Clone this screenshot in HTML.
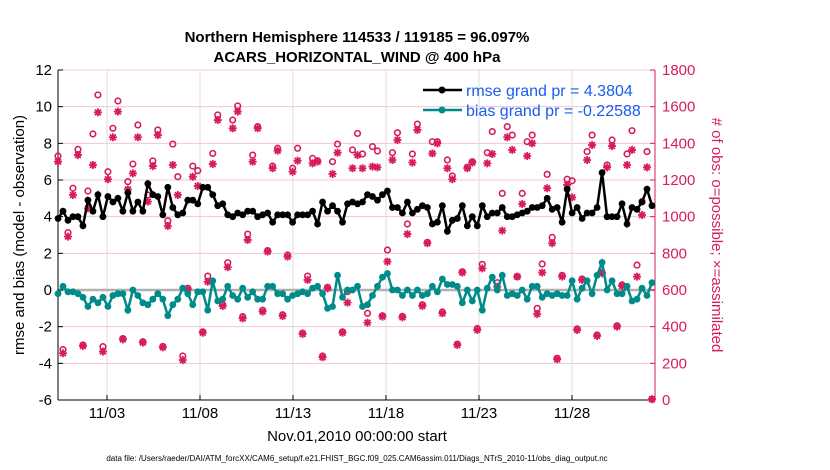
<!DOCTYPE html>
<html><head><meta charset="utf-8"><style>
body{margin:0;background:#fff;}
svg{display:block;font-family:"Liberation Sans",Arial,sans-serif;}
</style></head><body>
<svg id="chart" width="830" height="470" viewBox="0 0 830 470">
<text x="357" y="42" text-anchor="middle" font-size="15" font-weight="bold">Northern Hemisphere 114533 / 119185 = 96.097%</text>
<text x="357" y="62" text-anchor="middle" font-size="15" font-weight="bold">ACARS_HORIZONTAL_WIND @ 400 hPa</text>
<g id="grid"></g>
<g id="axes"></g>
<g id="marks"></g>
<text transform="translate(24,235) rotate(-90)" text-anchor="middle" font-size="15">rmse and bias (model - observation)</text>
<text transform="translate(712,235) rotate(90)" text-anchor="middle" font-size="15" fill="#d81b5c"># of obs: o=possible; ×=assimilated</text>
<text x="357" y="441" text-anchor="middle" font-size="15">Nov.01,2010 00:00:00 start</text>
<text x="357" y="461" text-anchor="middle" font-size="8">data file: /Users/raeder/DAI/ATM_forcXX/CAM6_setup/f.e21.FHIST_BGC.f09_025.CAM6assim.011/Diags_NTrS_2010-11/obs_diag_output.nc</text>
<g id="legend">
<line x1="423" y1="90" x2="462" y2="90" stroke="#000" stroke-width="2.5"/>
<circle cx="442" cy="90" r="3.5" fill="#000"/>
<text x="466" y="96" font-size="16" fill="#1a5cf0">rmse grand pr = 4.3804</text>
<line x1="423" y1="110" x2="462" y2="110" stroke="#008b8b" stroke-width="2.5"/>
<circle cx="442" cy="110" r="3.5" fill="#008b8b"/>
<text x="466" y="116" font-size="16" fill="#1a5cf0">bias grand pr = -0.22588</text>
</g>
</svg>
<script>
const leftTicks=[-6,-4,-2,0,2,4,6,8,10,12];
const rightTicks=[0,200,400,600,800,1000,1200,1400,1600,1800];
const dateDays=[3,8,13,18,23,28];
const dateLabels=["11/03","11/08","11/13","11/18","11/23","11/28"];
const rmse=[3.9,4.3,3.8,4.0,4.0,3.5,4.9,4.3,5.2,4.0,5.1,4.8,5.0,4.3,5.3,4.3,4.8,4.3,5.8,5.2,5.1,4.1,5.6,4.5,4.1,4.2,4.9,4.9,4.7,5.6,5.6,
5.2,4.6,4.7,4.1,4.0,4.2,4.1,4.3,4.3,4.0,4.1,4.2,3.7,4.1,4.1,4.1,3.7,4.1,4.1,4.1,4.3,3.6,4.8,4.3,4.6,4.3,3.7,4.7,4.8,4.7,
4.8,5.2,5.1,4.9,5.2,5.4,4.5,4.5,4.2,4.8,4.2,4.4,4.6,4.5,3.6,3.7,4.6,3.2,3.8,3.9,4.6,3.5,4.0,3.5,4.6,4.0,4.2,4.2,4.5,4.0,
4.0,4.1,4.2,4.3,4.5,4.5,4.6,5.0,4.4,4.5,3.7,5.5,4.2,4.5,3.9,4.2,4.2,4.5,6.4,4.0,4.0,4.0,4.7,3.6,4.5,4.4,4.8,5.5,4.6];
const bias=[-0.2,0.2,-0.1,-0.1,-0.2,-0.4,-0.9,-0.5,-0.7,-0.4,-0.9,-0.3,-0.2,-0.2,-1.1,0,-0.3,-0.7,-0.8,-0.5,-0.2,-0.5,-1.4,-0.8,-0.5,0.1,-0.2,-0.8,-0.1,-0.1,-1.1,
0.5,-0.6,-0.5,0.2,-0.3,-0.5,0.1,-0.4,-0.1,-0.5,-0.5,0.2,0.2,-0.2,-0.2,-0.5,-0.3,-0.2,-0.1,-0.2,0.1,0.2,-0.2,-1.0,-0.9,0.8,-0.4,0,0,0.2,
-0.9,-0.8,-0.3,0.2,0.7,0.9,0,0,-0.3,0,-0.3,0,-0.3,-0.2,0.2,-0.1,0.6,0.3,0.3,0.2,-0.7,0,-0.6,0,-1.1,0.1,0.7,0,0.8,-0.3,
-0.2,-0.3,0,-0.5,0.2,0.2,-0.4,-0.2,-0.3,-0.2,-0.3,-0.3,0.5,-0.5,0.1,0.5,-0.2,0.8,1.5,0,0.5,-0.2,-0.2,0.2,-0.6,-0.5,0.1,-0.3,0.4];
const assimilated=[1300,255,891,1118,1336,295,1045,1282,1569,264,1204,1433,1573,331,1149,1236,1433,313,1082,1276,1445,287,949,1282,1118,218,604,1218,1167,367,645,
1287,1527,513,724,1482,1573,445,873,1300,1482,482,809,1264,1360,458,782,1245,1305,360,655,1291,1300,233,609,1233,1349,367,531,1264,1336,
1264,422,1273,1269,455,755,1309,1418,451,905,1295,1473,513,855,1345,1400,473,1264,1204,300,695,1264,1295,382,718,1291,1342,618,924,1433,
1364,673,1069,1331,1400,469,695,1155,855,222,673,1173,1105,382,655,1309,1391,349,691,1269,1385,400,622,1282,1364,673,1009,1269,4];
const possible=[1331,275,913,1155,1367,300,1140,1451,1664,291,1245,1482,1631,335,1191,1287,1500,318,1118,1304,1473,292,978,1396,1218,240,610,1276,1251,372,676,
1345,1555,520,749,1527,1604,455,905,1336,1491,490,815,1276,1373,465,791,1264,1373,365,676,1318,1305,240,615,1300,1396,372,591,1364,1454,
1342,473,1382,1358,460,818,1349,1458,456,960,1342,1505,520,860,1409,1409,480,1309,1222,305,700,1270,1300,390,740,1349,1464,640,1127,1491,
1445,673,1127,1409,1445,500,742,1231,887,228,680,1204,1196,388,660,1355,1445,355,695,1282,1418,405,628,1342,1469,736,1082,1355,4];

const NS="http://www.w3.org/2000/svg";
const X0=58,X1=655,Y0=400,Y1=70;
const yL=v=>Y0-(v+6)/18*(Y0-Y1);
const yR=v=>Y0-v/1800*(Y0-Y1);
const xI=i=>X0+i*((652-X0)/(rmse.length-1));
const xD=d=>69.8+(d-1)*18.6;
const CR="#d81b5c",TE="#008b8b";
function mk(tag,attrs,parent){const e=document.createElementNS(NS,tag);for(const k in attrs)e.setAttribute(k,attrs[k]);parent.appendChild(e);return e;}
const grid=document.getElementById('grid'),axes=document.getElementById('axes'),marks=document.getElementById('marks');
leftTicks.forEach(t=>{
  const l=mk('line',{x1:X0,x2:X1,y1:yL(t),y2:yL(t),stroke:"#f3c6d6","stroke-width":1},grid);
  
  
  mk('line',{x1:X0,x2:X0+5,y1:yL(t),y2:yL(t),stroke:"#000"},axes);
  const tx=mk('text',{x:X0-6,y:yL(t)+5,"text-anchor":"end","font-size":15},axes);tx.textContent=t;
  
  
});
rightTicks.forEach(t=>{
  mk('line',{x1:X1-5,x2:X1,y1:yR(t),y2:yR(t),stroke:CR},axes);
  const tx=mk('text',{x:X1+7,y:yR(t)+5,"font-size":15,fill:CR},axes);tx.textContent=t;
  
  
});
dateDays.forEach((d,k)=>{
  const l=mk('line',{x1:xD(d),x2:xD(d),y1:Y1,y2:Y0,stroke:"#dcdcdc"},grid);
  
  
  mk('line',{x1:xD(d),x2:xD(d),y1:Y0,y2:Y0-5,stroke:"#000"},axes);
  const tx=mk('text',{x:xD(d),y:Y0+18,"text-anchor":"middle","font-size":15},axes);tx.textContent=dateLabels[k];
  
  
});
mk('line',{x1:X0,x2:X1,y1:yL(0),y2:yL(0),stroke:"#b0b0b0","stroke-width":2.5},grid);
mk('line',{x1:X0,x2:X0,y1:Y1,y2:Y0,stroke:"#000"},axes);
mk('line',{x1:X1,x2:X1,y1:Y1,y2:Y0,stroke:CR},axes);
mk('line',{x1:X0,x2:X1,y1:Y0,y2:Y0,stroke:"#000"},axes);
// counts
possible.forEach((v,i)=>{
  const c=mk('circle',{cx:xI(i),cy:yR(v),r:2.8,fill:"none",stroke:CR,"stroke-width":1.6},marks);
  
  
});
assimilated.forEach((v,i)=>{
  const x=xI(i),y=yR(v),r=4,d=2.9;
  const p=mk('path',{d:`M${x-r},${y}H${x+r}M${x},${y-r}V${y+r}M${x-d},${y-d}L${x+d},${y+d}M${x-d},${y+d}L${x+d},${y-d}`,stroke:CR,"stroke-width":1.8,fill:"none"},marks);
  
  
});
function series(vals,color,name){
  const p=mk('polyline',{points:vals.map((v,i)=>xI(i)+","+yL(v)).join(" "),fill:"none",stroke:color,"stroke-width":2.5},marks);
  
  
  vals.forEach((v,i)=>{
    const c=mk('circle',{cx:xI(i),cy:yL(v),r:3.4,fill:color},marks);
    
    
  });
}
series(bias,TE,'bias');
series(rmse,"#000",'rmse');
</script>
</body></html>
